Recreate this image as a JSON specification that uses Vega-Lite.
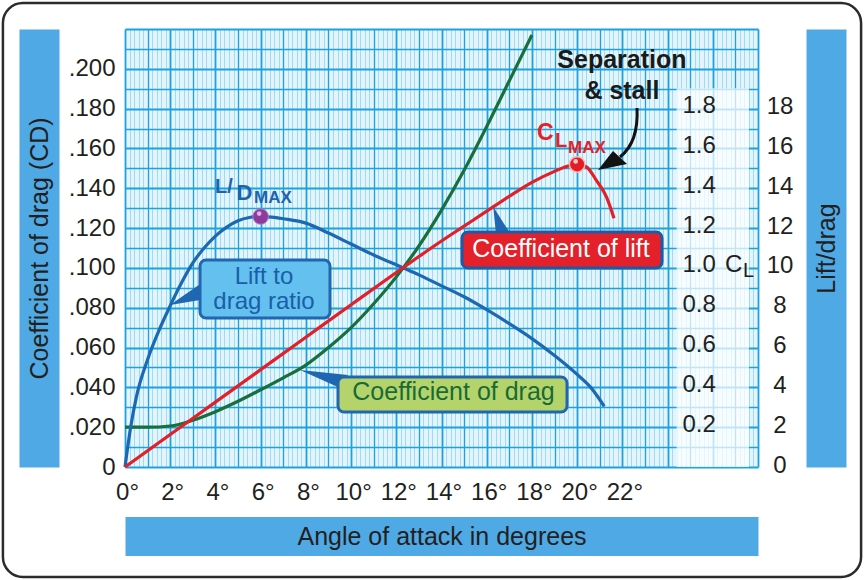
{
  "$schema": "https://vega.github.io/schema/vega-lite/v6.json",
  "width": 633,
  "height": 438,
  "autosize": {"type": "none"},
  "padding": {"left": 125, "top": 29, "right": 106, "bottom": 113},
  "background": "white",
  "config": {
    "font": "Liberation Sans",
    "view": {"fill": "#e2f4fc", "stroke": null},
    "axis": {"labelColor": "#231f20", "titleColor": "#231f20", "labelFontSize": 24, "titleFontSize": 25, "titleFontWeight": "normal", "ticks": false, "tickSize": 0, "domain": false, "grid": false, "labelOverlap": false, "labelFlush": false, "labelBound": false}
  },
  "datasets": {
    "drag": [
      {"angle": 0, "cd": 0.02}, {"angle": 1, "cd": 0.02}, {"angle": 2, "cd": 0.0206}, {"angle": 3, "cd": 0.0235},
      {"angle": 4, "cd": 0.0278}, {"angle": 5, "cd": 0.033}, {"angle": 6, "cd": 0.0388}, {"angle": 7, "cd": 0.0448},
      {"angle": 8, "cd": 0.0512}, {"angle": 9, "cd": 0.06}, {"angle": 10, "cd": 0.07}, {"angle": 11, "cd": 0.082},
      {"angle": 12, "cd": 0.0955}, {"angle": 13, "cd": 0.111}, {"angle": 14, "cd": 0.129}, {"angle": 15, "cd": 0.149},
      {"angle": 16, "cd": 0.171}, {"angle": 17, "cd": 0.194}, {"angle": 18, "cd": 0.217}
    ],
    "lift": [
      {"angle": 0, "cl": 0}, {"angle": 2, "cl": 0.163}, {"angle": 4, "cl": 0.326}, {"angle": 6, "cl": 0.489},
      {"angle": 8, "cl": 0.652}, {"angle": 10, "cl": 0.815}, {"angle": 12, "cl": 0.977}, {"angle": 13, "cl": 1.057},
      {"angle": 14, "cl": 1.135}, {"angle": 15, "cl": 1.21}, {"angle": 16, "cl": 1.285}, {"angle": 17, "cl": 1.36},
      {"angle": 18, "cl": 1.43}, {"angle": 19, "cl": 1.485}, {"angle": 19.5, "cl": 1.508}, {"angle": 20, "cl": 1.52},
      {"angle": 20.4, "cl": 1.508}, {"angle": 20.85, "cl": 1.44}, {"angle": 21.3, "cl": 1.356}, {"angle": 21.63, "cl": 1.25}
    ],
    "ratio": [
      {"angle": 0, "ld": 0}, {"angle": 0.25, "ld": 2.0}, {"angle": 0.5, "ld": 3.5}, {"angle": 1, "ld": 5.4},
      {"angle": 1.5, "ld": 6.85}, {"angle": 2, "ld": 8.1}, {"angle": 2.5, "ld": 9.25}, {"angle": 3, "ld": 10.25},
      {"angle": 3.5, "ld": 11.0}, {"angle": 4, "ld": 11.6}, {"angle": 4.5, "ld": 12.05}, {"angle": 5, "ld": 12.37},
      {"angle": 5.5, "ld": 12.53}, {"angle": 6, "ld": 12.58}, {"angle": 6.5, "ld": 12.55}, {"angle": 7, "ld": 12.47},
      {"angle": 8, "ld": 12.25}, {"angle": 9, "ld": 11.75}, {"angle": 10, "ld": 11.2}, {"angle": 11, "ld": 10.65},
      {"angle": 12.31, "ld": 10.0}, {"angle": 13, "ld": 9.65}, {"angle": 14, "ld": 9.1}, {"angle": 15, "ld": 8.55},
      {"angle": 16, "ld": 7.9}, {"angle": 17, "ld": 7.2}, {"angle": 18, "ld": 6.45}, {"angle": 19, "ld": 5.6},
      {"angle": 20, "ld": 4.65}, {"angle": 20.6, "ld": 4.0}, {"angle": 21.2, "ld": 3.05}
    ],
    "ldmax": [{"angle": 6, "ld": 12.58}],
    "clmax": [{"angle": 20, "cl": 1.52}]
  },
  "resolve": {"scale": {"y": "independent"}, "axis": {"x": "independent", "y": "independent"}},
  "layer": [
    {
      "data": {"name": "drag"},
      "mark": {"type": "line", "color": "#17703b", "strokeWidth": 3.2, "interpolate": "monotone"},
      "encoding": {
        "x": {"field": "angle", "type": "quantitative", "scale": {"domain": [0, 28], "nice": false, "zero": false},
          "axis": {"title": null, "grid": true,
            "values": [0,0.2,0.4,0.6,0.8,1,1.2,1.4,1.6,1.8,2,2.2,2.4,2.6,2.8,3,3.2,3.4,3.6,3.8,4,4.2,4.4,4.6,4.8,5,5.2,5.4,5.6,5.8,6,6.2,6.4,6.6,6.8,7,7.2,7.4,7.6,7.8,8,8.2,8.4,8.6,8.8,9,9.2,9.4,9.6,9.8,10,10.2,10.4,10.6,10.8,11,11.2,11.4,11.6,11.8,12,12.2,12.4,12.6,12.8,13,13.2,13.4,13.6,13.8,14,14.2,14.4,14.6,14.8,15,15.2,15.4,15.6,15.8,16,16.2,16.4,16.6,16.8,17,17.2,17.4,17.6,17.8,18,18.2,18.4,18.6,18.8,19,19.2,19.4,19.6,19.8,20,20.2,20.4,20.6,20.8,21,21.2,21.4,21.6,21.8,22,22.2,22.4,22.6,22.8,23,23.2,23.4,23.6,23.8,24,24.2,24.4,24.6,24.8,25,25.2,25.4,25.6,25.8,26,26.2,26.4,26.6,26.8,27,27.2,27.4,27.6,27.8,28],
            "gridColor": {"condition": {"test": "abs(datum.value - round(datum.value)) < 0.01", "value": "#1ea2de"}, "value": "#a2daf2"},
            "gridWidth": {"condition": [{"test": "abs(datum.value/2 - round(datum.value/2)) < 0.01", "value": 1.8}, {"test": "abs(datum.value - round(datum.value)) < 0.01", "value": 1.3}], "value": 1},
            "labelExpr": "datum.value < 22.1 && abs(datum.value/2 - round(datum.value/2)) < 0.01 ? round(datum.value) + '°' : ''",
            "labelPadding": 13, "labelOffset": 2}},
        "y": {"field": "cd", "type": "quantitative", "scale": {"domain": [0, 0.22], "nice": false, "zero": false},
          "axis": {"title": null, "grid": true,
            "values": [0,0.01,0.02,0.03,0.04,0.05,0.06,0.07,0.08,0.09,0.1,0.11,0.12,0.13,0.14,0.15,0.16,0.17,0.18,0.19,0.2,0.21,0.22],
            "gridColor": "#1ea2de",
            "gridWidth": {"condition": {"test": "abs(datum.value*50 - round(datum.value*50)) < 0.01", "value": 1.8}, "value": 1.3},
            "labelExpr": "datum.value > 0.205 || abs(datum.value*50 - round(datum.value*50)) > 0.01 ? '' : (datum.value < 0.001 ? '0' : replace(format(datum.value, '.3f'), '0.', '.'))",
            "labelPadding": 10}}
      }
    },
    {
      "data": {"name": "ratio"},
      "mark": {"type": "line", "color": "#1b69b3", "strokeWidth": 3.2, "interpolate": "monotone"},
      "encoding": {
        "x": {"field": "angle", "type": "quantitative", "scale": {"domain": [0, 28], "nice": false, "zero": false}, "axis": null},
        "y": {"field": "ld", "type": "quantitative", "scale": {"domain": [0, 22], "nice": false, "zero": false},
          "axis": {"title": null, "orient": "right", "offset": 0, "values": [0,2,4,6,8,10,12,14,16,18], "labelAlign": "center", "labelPadding": 21.5, "labelOffset": -2}}
      }
    },
    {
      "data": {"name": "lift"},
      "mark": {"type": "line", "color": "#e31f27", "strokeWidth": 3.2, "interpolate": "monotone"},
      "encoding": {
        "x": {"field": "angle", "type": "quantitative", "scale": {"domain": [0, 28], "nice": false, "zero": false}, "axis": null},
        "y": {"field": "cl", "type": "quantitative", "scale": {"domain": [0, 2.2], "nice": false, "zero": false},
          "axis": {"title": null, "orient": "right", "offset": -78, "values": [0.2,0.4,0.6,0.8,1.0,1.2,1.4,1.6,1.8], "format": ".1f", "labelAlign": "left", "labelPadding": 2, "labelOffset": -3, "zindex": 1}}
      }
    },
    {
      "data": {"values": [{}]},
      "mark": {"type": "rect", "filled": false, "stroke": "#2b2b2b", "strokeWidth": 2.5, "cornerRadius": 20},
      "encoding": {
        "x": {"datum": -5.4, "type": "quantitative", "scale": {"domain": [0, 28], "nice": false, "zero": false}, "axis": null},
        "x2": {"datum": 32.56},
        "y": {"datum": -0.05525, "type": "quantitative", "scale": {"domain": [0, 0.22], "nice": false, "zero": false}, "axis": null},
        "y2": {"datum": 0.2331}
      }
    },
    {
      "data": {"values": [{}]},
      "mark": {"type": "rect", "fill": "white", "opacity": 0.72},
      "encoding": {
        "x": {"datum": 24.4, "type": "quantitative", "scale": {"domain": [0, 28], "nice": false, "zero": false}, "axis": null},
        "x2": {"datum": 27.6},
        "y": {"datum": 0, "type": "quantitative", "scale": {"domain": [0, 0.22], "nice": false, "zero": false}, "axis": null},
        "y2": {"datum": 0.1902}
      }
    },
    {
      "data": {"values": [{}]},
      "mark": {"type": "point", "shape": "M0,0L36,-25L36,-6Z", "size": 4, "filled": true, "color": "#1f67b0", "opacity": 1, "strokeWidth": 0},
      "encoding": {
        "x": {"datum": 1.99, "type": "quantitative", "scale": {"domain": [0, 28], "nice": false, "zero": false}, "axis": null},
        "y": {"datum": 0.08137, "type": "quantitative", "scale": {"domain": [0, 0.22], "nice": false, "zero": false}, "axis": null}
      }
    },
    {
      "data": {"values": [{}]},
      "mark": {"type": "point", "shape": "M0,0L48,5L40,18Z", "size": 4, "filled": true, "color": "#1f67b0", "opacity": 1, "strokeWidth": 0},
      "encoding": {
        "x": {"datum": 7.741, "type": "quantitative", "scale": {"domain": [0, 28], "nice": false, "zero": false}, "axis": null},
        "y": {"datum": 0.04872, "type": "quantitative", "scale": {"domain": [0, 0.22], "nice": false, "zero": false}, "axis": null}
      }
    },
    {
      "data": {"values": [{}]},
      "mark": {"type": "point", "shape": "M0,0L3,30L19,30Z", "size": 4, "filled": true, "color": "#1f67b0", "opacity": 1, "strokeWidth": 0},
      "encoding": {
        "x": {"datum": 16.29, "type": "quantitative", "scale": {"domain": [0, 28], "nice": false, "zero": false}, "axis": null},
        "y": {"datum": 0.1307, "type": "quantitative", "scale": {"domain": [0, 0.22], "nice": false, "zero": false}, "axis": null}
      }
    },
    {
      "data": {"values": [{}]},
      "mark": {"type": "rect", "fill": "#63c0ef", "stroke": "#1f67b0", "strokeWidth": 3, "cornerRadius": 6},
      "encoding": {
        "x": {"datum": 3.318, "type": "quantitative", "scale": {"domain": [0, 28], "nice": false, "zero": false}, "axis": null},
        "x2": {"datum": 9.068},
        "y": {"datum": 0.07484, "type": "quantitative", "scale": {"domain": [0, 0.22], "nice": false, "zero": false}, "axis": null},
        "y2": {"datum": 0.10397}
      }
    },
    {
      "data": {"values": [{}]},
      "mark": {"type": "rect", "fill": "#b4d46b", "stroke": "#1f67b0", "strokeWidth": 3, "cornerRadius": 6},
      "encoding": {
        "x": {"datum": 9.422, "type": "quantitative", "scale": {"domain": [0, 28], "nice": false, "zero": false}, "axis": null},
        "x2": {"datum": 19.552},
        "y": {"datum": 0.02763, "type": "quantitative", "scale": {"domain": [0, 0.22], "nice": false, "zero": false}, "axis": null},
        "y2": {"datum": 0.04521}
      }
    },
    {
      "data": {"values": [{}]},
      "mark": {"type": "rect", "fill": "#e4202a", "stroke": "#1f5aa6", "strokeWidth": 3, "cornerRadius": 6},
      "encoding": {
        "x": {"datum": 14.907, "type": "quantitative", "scale": {"domain": [0, 28], "nice": false, "zero": false}, "axis": null},
        "x2": {"datum": 23.754},
        "y": {"datum": 0.09995, "type": "quantitative", "scale": {"domain": [0, 0.22], "nice": false, "zero": false}, "axis": null},
        "y2": {"datum": 0.11804}
      }
    },
    {
      "data": {"values": [{}]},
      "mark": {"type": "text", "text": "Lift to", "align": "center", "baseline": "alphabetic", "fontSize": 24, "color": "#1a5ea9"},
      "encoding": {
        "x": {"datum": 6.149, "type": "quantitative", "scale": {"domain": [0, 28], "nice": false, "zero": false}, "axis": null},
        "y": {"datum": 0.09192, "type": "quantitative", "scale": {"domain": [0, 0.22], "nice": false, "zero": false}, "axis": null}
      }
    },
    {
      "data": {"values": [{}]},
      "mark": {"type": "text", "text": "drag ratio", "align": "center", "baseline": "alphabetic", "fontSize": 24, "color": "#1a5ea9"},
      "encoding": {
        "x": {"datum": 6.149, "type": "quantitative", "scale": {"domain": [0, 28], "nice": false, "zero": false}, "axis": null},
        "y": {"datum": 0.07936, "type": "quantitative", "scale": {"domain": [0, 0.22], "nice": false, "zero": false}, "axis": null}
      }
    },
    {
      "data": {"values": [{}]},
      "mark": {"type": "text", "text": "Coefficient of drag", "align": "center", "baseline": "alphabetic", "fontSize": 25, "color": "#186b37"},
      "encoding": {
        "x": {"datum": 14.531, "type": "quantitative", "scale": {"domain": [0, 28], "nice": false, "zero": false}, "axis": null},
        "y": {"datum": 0.03365, "type": "quantitative", "scale": {"domain": [0, 0.22], "nice": false, "zero": false}, "axis": null}
      }
    },
    {
      "data": {"values": [{}]},
      "mark": {"type": "text", "text": "Coefficient of lift", "align": "center", "baseline": "alphabetic", "fontSize": 25, "color": "white"},
      "encoding": {
        "x": {"datum": 19.286, "type": "quantitative", "scale": {"domain": [0, 28], "nice": false, "zero": false}, "axis": null},
        "y": {"datum": 0.10523, "type": "quantitative", "scale": {"domain": [0, 0.22], "nice": false, "zero": false}, "axis": null}
      }
    },
    {
      "data": {"values": [{}]},
      "mark": {"type": "text", "text": ["Separation", "& stall"], "lineHeight": 31, "align": "center", "baseline": "alphabetic", "fontSize": 25, "fontWeight": "bold", "color": "#1a1a1a"},
      "encoding": {
        "x": {"datum": 21.98, "type": "quantitative", "scale": {"domain": [0, 28], "nice": false, "zero": false}, "axis": null},
        "y": {"datum": 0.2004, "type": "quantitative", "scale": {"domain": [0, 0.22], "nice": false, "zero": false}, "axis": null}
      }
    },
    {
      "data": {"values": [{}]},
      "mark": {"type": "text", "text": "L/", "align": "left", "baseline": "alphabetic", "fontSize": 20, "fontWeight": "bold", "color": "#1e63ad"},
      "encoding": {
        "x": {"datum": 3.981, "type": "quantitative", "scale": {"domain": [0, 28], "nice": false, "zero": false}, "axis": null},
        "y": {"datum": 0.13763, "type": "quantitative", "scale": {"domain": [0, 0.22], "nice": false, "zero": false}, "axis": null}
      }
    },
    {
      "data": {"values": [{}]},
      "mark": {"type": "text", "text": "D", "align": "left", "baseline": "alphabetic", "fontSize": 22, "fontWeight": "bold", "color": "#1e63ad"},
      "encoding": {
        "x": {"datum": 4.93, "type": "quantitative", "scale": {"domain": [0, 28], "nice": false, "zero": false}, "axis": null},
        "y": {"datum": 0.13411, "type": "quantitative", "scale": {"domain": [0, 0.22], "nice": false, "zero": false}, "axis": null}
      }
    },
    {
      "data": {"values": [{}]},
      "mark": {"type": "text", "text": "MAX", "align": "left", "baseline": "alphabetic", "fontSize": 17, "fontWeight": "bold", "color": "#1e63ad"},
      "encoding": {
        "x": {"datum": 5.71, "type": "quantitative", "scale": {"domain": [0, 28], "nice": false, "zero": false}, "axis": null},
        "y": {"datum": 0.1326, "type": "quantitative", "scale": {"domain": [0, 0.22], "nice": false, "zero": false}, "axis": null}
      }
    },
    {
      "data": {"values": [{}]},
      "mark": {"type": "text", "text": "C", "align": "left", "baseline": "alphabetic", "fontSize": 23, "fontWeight": "bold", "color": "#e42229"},
      "encoding": {
        "x": {"datum": 18.225, "type": "quantitative", "scale": {"domain": [0, 28], "nice": false, "zero": false}, "axis": null},
        "y": {"datum": 0.16425, "type": "quantitative", "scale": {"domain": [0, 0.22], "nice": false, "zero": false}, "axis": null}
      }
    },
    {
      "data": {"values": [{}]},
      "mark": {"type": "text", "text": "L", "align": "left", "baseline": "alphabetic", "fontSize": 20, "fontWeight": "bold", "color": "#e42229"},
      "encoding": {
        "x": {"datum": 19.021, "type": "quantitative", "scale": {"domain": [0, 28], "nice": false, "zero": false}, "axis": null},
        "y": {"datum": 0.16073, "type": "quantitative", "scale": {"domain": [0, 0.22], "nice": false, "zero": false}, "axis": null}
      }
    },
    {
      "data": {"values": [{}]},
      "mark": {"type": "text", "text": "MAX", "align": "left", "baseline": "alphabetic", "fontSize": 17, "fontWeight": "bold", "color": "#e42229"},
      "encoding": {
        "x": {"datum": 19.596, "type": "quantitative", "scale": {"domain": [0, 28], "nice": false, "zero": false}, "axis": null},
        "y": {"datum": 0.15747, "type": "quantitative", "scale": {"domain": [0, 0.22], "nice": false, "zero": false}, "axis": null}
      }
    },
    {
      "data": {"values": [{}]},
      "mark": {"type": "text", "text": "C", "align": "left", "baseline": "alphabetic", "fontSize": 24, "color": "#231f20"},
      "encoding": {
        "x": {"datum": 26.54, "type": "quantitative", "scale": {"domain": [0, 28], "nice": false, "zero": false}, "axis": null},
        "y": {"datum": 0.0977, "type": "quantitative", "scale": {"domain": [0, 0.22], "nice": false, "zero": false}, "axis": null}
      }
    },
    {
      "data": {"values": [{}]},
      "mark": {"type": "text", "text": "L", "align": "left", "baseline": "alphabetic", "fontSize": 20, "color": "#231f20"},
      "encoding": {
        "x": {"datum": 27.34, "type": "quantitative", "scale": {"domain": [0, 28], "nice": false, "zero": false}, "axis": null},
        "y": {"datum": 0.09543, "type": "quantitative", "scale": {"domain": [0, 0.22], "nice": false, "zero": false}, "axis": null}
      }
    },
    {
      "data": {"name": "ldmax"},
      "mark": {"type": "point", "shape": "circle", "size": 240, "filled": true, "color": "#8e3a9d", "stroke": "#b77ac4", "strokeWidth": 1, "opacity": 1},
      "encoding": {
        "x": {"field": "angle", "type": "quantitative", "scale": {"domain": [0, 28], "nice": false, "zero": false}, "axis": null},
        "y": {"field": "ld", "type": "quantitative", "scale": {"domain": [0, 22], "nice": false, "zero": false},
          "axis": {"orient": "right", "offset": 68, "domain": true, "domainColor": "#4ea9e4", "domainWidth": 40, "labels": false, "grid": false,
            "title": "Lift/drag", "titleAngle": 270, "titleX": 0, "titleY": 219, "titleAlign": "center", "titleBaseline": "middle"}}
      }
    },
    {
      "data": {"name": "ldmax"},
      "mark": {"type": "point", "shape": "circle", "size": 22, "filled": true, "color": "#dcb3e2", "opacity": 1, "strokeWidth": 0, "xOffset": -1.5, "yOffset": -3},
      "encoding": {
        "x": {"field": "angle", "type": "quantitative", "scale": {"domain": [0, 28], "nice": false, "zero": false}, "axis": null},
        "y": {"field": "ld", "type": "quantitative", "scale": {"domain": [0, 22], "nice": false, "zero": false}, "axis": null}
      }
    },
    {
      "data": {"name": "clmax"},
      "mark": {"type": "point", "shape": "circle", "size": 240, "filled": true, "color": "#e31d25", "stroke": "#f6b9b5", "strokeWidth": 1.5, "opacity": 1},
      "encoding": {
        "x": {"field": "angle", "type": "quantitative", "scale": {"domain": [0, 28], "nice": false, "zero": false},
          "axis": {"orient": "bottom", "offset": 69, "domain": true, "domainColor": "#4ea9e4", "domainWidth": 39, "labels": false, "grid": false,
            "title": "Angle of attack in degrees", "titleAngle": 0, "titleX": 316.5, "titleY": 0, "titleAlign": "center", "titleBaseline": "middle"}},
        "y": {"field": "cl", "type": "quantitative", "scale": {"domain": [0, 2.2], "nice": false, "zero": false},
          "axis": {"orient": "left", "offset": 86, "domain": true, "domainColor": "#4ea9e4", "domainWidth": 40, "labels": false, "grid": false,
            "title": "Coefficient of drag (CD)", "titleAngle": 270, "titleX": 0, "titleY": 219, "titleAlign": "center", "titleBaseline": "middle"}}
      }
    },
    {
      "data": {"name": "clmax"},
      "mark": {"type": "point", "shape": "circle", "size": 22, "filled": true, "color": "#f8c6c2", "opacity": 1, "strokeWidth": 0, "xOffset": -1.5, "yOffset": -3},
      "encoding": {
        "x": {"field": "angle", "type": "quantitative", "scale": {"domain": [0, 28], "nice": false, "zero": false}, "axis": null},
        "y": {"field": "cl", "type": "quantitative", "scale": {"domain": [0, 2.2], "nice": false, "zero": false}, "axis": null}
      }
    },
    {
      "data": {"values": [{}]},
      "mark": {"type": "point", "shape": "M39,-62C40,-42 36,-24 22,-13", "size": 4, "filled": false, "stroke": "#111111", "strokeWidth": 3, "opacity": 1},
      "encoding": {
        "x": {"datum": 20.923, "type": "quantitative", "scale": {"domain": [0, 28], "nice": false, "zero": false}, "axis": null},
        "y": {"datum": 0.14918, "type": "quantitative", "scale": {"domain": [0, 0.22], "nice": false, "zero": false}, "axis": null}
      }
    },
    {
      "data": {"values": [{}]},
      "mark": {"type": "point", "shape": "M0,0L15,-19L29,-6Z", "size": 4, "filled": true, "color": "#111111", "strokeWidth": 0, "opacity": 1},
      "encoding": {
        "x": {"datum": 20.923, "type": "quantitative", "scale": {"domain": [0, 28], "nice": false, "zero": false}, "axis": null},
        "y": {"datum": 0.14918, "type": "quantitative", "scale": {"domain": [0, 0.22], "nice": false, "zero": false}, "axis": null}
      }
    }
  ]
}
